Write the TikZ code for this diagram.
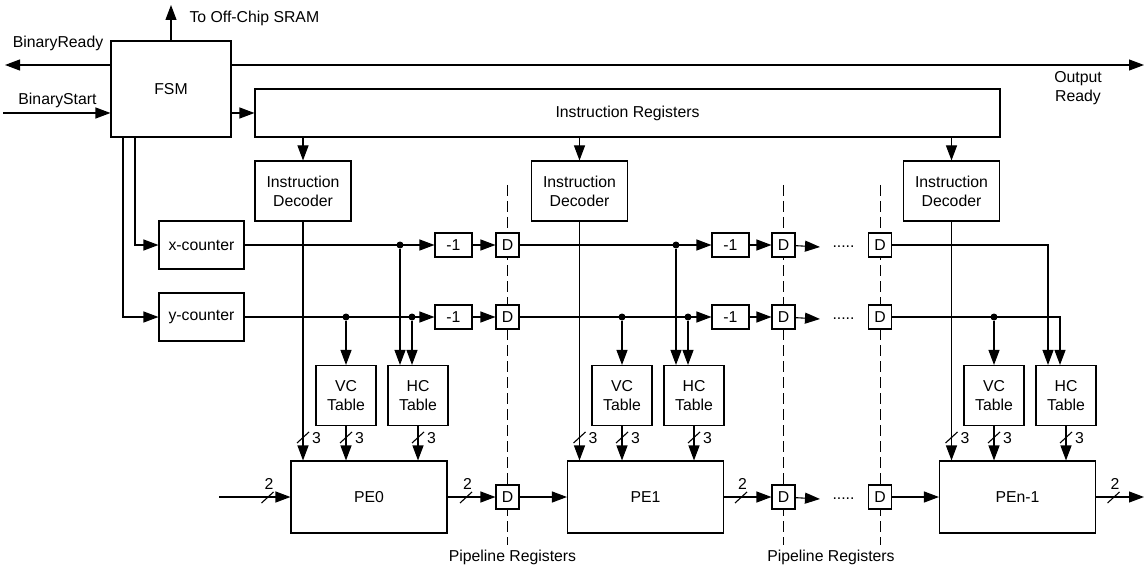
\documentclass[tikz,border=0pt]{standalone}
\usepackage{fontspec}
\setmainfont{Liberation Sans}
\usetikzlibrary{arrows.meta,backgrounds}

\tikzset{
  blk/.style={draw,fill=white,inner sep=0pt,align=center},
  regbox/.style={blk,minimum width=23pt,minimum height=24pt},
  subbox/.style={blk,minimum width=37pt,minimum height=24pt},
  tblbox/.style={blk,minimum width=60pt,minimum height=60pt},
  decbox/.style={blk,minimum width=96pt,minimum height=60pt},
  pebox/.style={blk,minimum width=156pt,minimum height=72pt},
  lbl/.style={inner sep=0pt,align=center},
  pipe/.style={dash pattern=on 11pt off 5pt},
  dot/.style={circle,fill,inner sep=0pt,minimum size=7pt},
}

\begin{document}
\begin{tikzpicture}[x=1pt,y=-1pt,>={Triangle[length=15pt,width=11pt]},line width=1.1pt,
  font=\fontsize{15.8}{19}\selectfont]
  \useasboundingbox (0,0) rectangle (1148,572);

  % control
  \node[blk,minimum width=120pt,minimum height=96pt] (fsm) at (171,89) {FSM};
  \node[blk,minimum width=745pt,minimum height=48pt] (ir) at (627.5,113) {Instruction Registers};
  \node[blk,minimum width=85pt,minimum height=48pt] (xcnt) at (201.5,245) {x-counter};
  \node[blk,minimum width=85pt,minimum height=48pt] (ycnt) at (201.5,317) {y-counter};

  \coordinate (sramtip) at (171,5);
  \coordinate (brdy) at (5,65);
  \coordinate (ordy) at (1144,65);
  \coordinate (bstart) at (3,113);
  \draw[->] (fsm) -- (sramtip);
  \node[lbl,anchor=west] (sram) at (189,18) {To Off-Chip SRAM};
  \draw[->] (fsm.west |- brdy) -- (brdy);
  \node[lbl] (brdylbl) at (58,43) {BinaryReady};
  \draw[->] (fsm.east |- ordy) -- (ordy);
  \node[lbl] (ordylbl) at (1078,88) {Output\\Ready};
  \draw[->] (bstart) -- (fsm.west |- bstart);
  \node[lbl] (bstartlbl) at (57.5,100) {BinaryStart};
  \draw[->] (fsm.east |- ir.west) -- (ir.west);
  \draw[->] ([xshift=-36pt]fsm.south) |- (xcnt.west);
  \draw[->] ([xshift=-48pt]fsm.south) |- (ycnt.west);

  % processing columns
  \foreach \i/\dc/\vc/\hc/\pe/\name in {0/303/346/418/369/PE0,1/579.5/622/694/645.5/PE1,
      2/951.5/994/1066/1017.5/PEn-1} {
    \node[decbox] (dec\i) at (\dc,191) {Instruction\\Decoder};
    \node[tblbox] (vc\i) at (\vc,395.5) {VC\\Table};
    \node[tblbox] (hc\i) at (\hc,395.5) {HC\\Table};
    \node[pebox] (pe\i) at (\pe,497) {\name};
    \coordinate (hx\i) at ([xshift=-18pt]hc\i.north);
    \coordinate (hy\i) at ([xshift=-6pt]hc\i.north);
    \draw[->] (ir.south -| dec\i) -- (dec\i);
    \draw[->] (dec\i) -- (dec\i |- pe\i.north);
    \draw[->] (vc\i) -- (vc\i |- pe\i.north);
    \draw[->] (hc\i) -- (hc\i |- pe\i.north);
    \node[dot] (yv\i) at (vc\i |- ycnt) {};
    \draw[->] (yv\i) -- (vc\i);
  }

  % pipeline registers
  \foreach \i/\sx/\rx in {0/453.5/507.5,1/730.5/783.5} {
    \node[subbox] (xs\i) at (\sx,245) {-1};
    \node[subbox] (ys\i) at (\sx,317) {-1};
    \node[regbox] (xd\i) at (\rx,245) {D};
    \node[regbox] (yd\i) at (\rx,317) {D};
    \node[regbox] (pd\i) at (\rx,497) {D};
    \node[dot] (xh\i) at (hx\i |- xcnt) {};
    \node[dot] (yh\i) at (hy\i |- ycnt) {};
    \draw[->] (xh\i) -- (hx\i);
    \draw[->] (yh\i) -- (hy\i);
    \draw[->] (xs\i) -- (xd\i);
    \draw[->] (ys\i) -- (yd\i);
  }
  \node[regbox] (xd2) at (880,245) {D};
  \node[regbox] (yd2) at (880,317) {D};
  \node[regbox] (pd2) at (880,497) {D};
  \node[lbl] (xdots) at (843.5,247) {.....};
  \node[lbl] (ydots) at (843.5,319) {.....};
  \node[lbl] (pdots) at (843.5,499) {.....};

  \draw[->] (xcnt) -- (xs0);
  \draw[->] (ycnt) -- (ys0);
  \draw[->] (xd0) -- (xs1);
  \draw[->] (yd0) -- (ys1);
  \draw[->] (xd1) -- ([xshift=-12pt]xdots.west);
  \draw[->] (yd1) -- ([xshift=-12pt]ydots.west);
  \draw[->] (xd2.east) -| (hx2);
  \draw[->] (yd2.east) -| (hy2);

  \coordinate (pein) at (219,497);
  \coordinate (peout) at (1144,497);
  \draw[->] (pein) -- (pe0);
  \draw[->] (pe0) -- (pd0);
  \draw[->] (pd0) -- (pe1);
  \draw[->] (pe1) -- (pd1);
  \draw[->] (pd1) -- ([xshift=-12pt]pdots.west);
  \draw[->] (pd2) -- (pe2);
  \draw[->] (pe2) -- (peout);

  % bus widths
  \foreach \sx [count=\k] in {303,346,418,579.5,622,694,951.5,994,1066} {
    \draw (\sx-6,443) -- (\sx+6,432);
    \node[lbl] (w\k) at (\sx+13.5,438) {3};
  }
  \foreach \sx [count=\k] in {267.5,466,741,1113.5} {
    \draw (\sx-6,503) -- (\sx+6,492);
    \node[lbl] (v\k) at (\sx+1.5,484) {2};
  }

  \begin{scope}[on background layer]
    \foreach \i in {0,1,2}
      \draw[pipe] (xd\i |- 0,185) -- (pd\i |- 0,545);
  \end{scope}
  \node[lbl] (pl0) at (512.5,557) {Pipeline Registers};
  \node[lbl] (pl1) at (831,557) {Pipeline Registers};
\end{tikzpicture}
\end{document}
